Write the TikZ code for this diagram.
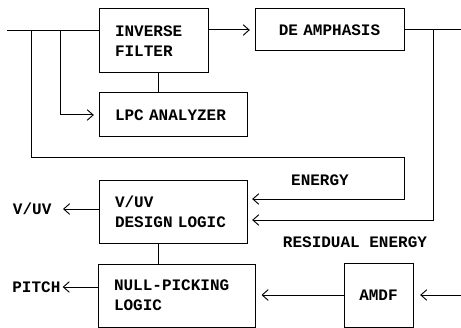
\documentclass[tikz,border=0pt]{standalone}
\usepackage{fontspec}
\setmonofont{Liberation Mono}
\usetikzlibrary{
  arrows.meta,
  calc,
  positioning,
}

\begin{document}
\begin{tikzpicture}[
  x=0.75pt,
  y=-0.75pt,
  font={\ttfamily\bfseries\fontsize{12}{15}\selectfont},
  wire/.style={
    draw=black,
    line width=0.75pt,
  },
  box/.style={
    wire,
    inner xsep=12pt,
    inner ysep=0pt,
    align=left,
  },
  tag/.style={
    inner sep=1pt,
  },
  arrow/.style={
    wire,
    -{Straight Barb[length=4.5pt,width=8pt,line width=0.7pt]},
    shorten >=#1,
  },
  arrow/.default=3.5pt,
]
  \useasboundingbox (0,0) rectangle (461,328);

  %%%%%%%%%%%%%%%%%%%% BLOCKS %%%%%%%%%%%%%%%%%%%%

  \node[box, text width=57.75pt, minimum height=48pt] (invfilt)
    at (153.5,41) {INVERSE\\FILTER};
  \node[box, align=center, text width=87.75pt, minimum height=31.5pt] (deamph)
    at (329.5,30) {DE AMPHASIS};
  \node[box, text width=87pt, minimum height=33pt] (lpc)
    at (173,115) {LPC ANALYZER};
  \node[box, text width=87pt, minimum height=47.25pt] (vuv)
    at (173,211.5) {V/UV\\DESIGN LOGIC};
  \node[box, text width=93.75pt, minimum height=47.25pt] (nullp)
    at (176.5,295.5) {NULL-PICKING\\LOGIC};
  \node[box, inner xsep=0pt, align=center, minimum width=51.75pt,
    minimum height=48pt] (amdf) at (378.5,295) {AMDF};

  %%%%%%%%%%%%%%%%%%%% INPUT %%%%%%%%%%%%%%%%%%%%

  \coordinate (in) at (7,30.5);
  \coordinate (inbr1) at (31,30.5);
  \coordinate (inbr2) at (60,30.5);
  \coordinate (ecorner) at (404,158);

  \draw[wire] (in) -- (invfilt.west |- in);
  \draw[arrow] (inbr2) |- (lpc.west);
  \draw[arrow] (inbr1) |- (ecorner) |- ($(vuv.east)+(0,-12.5)$);
  \node[tag] (energy) at (320,180) {ENERGY};

  \coordinate (lpctop) at ($(lpc.north west)!0.4!(lpc.north east)$);
  \draw[wire] (invfilt.south -| lpctop) -- (lpctop);

  %%%%%%%%%%%%%%%%%%%% DE AMPHASIS %%%%%%%%%%%%%%%%%%%%

  \coordinate (out) at (461,30);
  \coordinate (outbr) at (433,30);

  \draw[arrow] (invfilt.east |- deamph.west) -- (deamph.west);
  \draw[wire] (deamph.east) -- (out);
  \draw[arrow] (outbr) |- ($(vuv.east)+(0,8.5)$);
  \node[tag] (residual) at (355,242) {RESIDUAL ENERGY};

  %%%%%%%%%%%%%%%%%%%% OUTPUTS %%%%%%%%%%%%%%%%%%%%

  \node[tag, anchor=east] (vuvout) at (53,209) {V/UV};
  \draw[arrow=7.5pt] (vuv.west |- vuvout) -- (vuvout.east);

  \coordinate (vuvbot) at ($(vuv.south west)!0.4!(vuv.south east)$);
  \draw[wire] (vuvbot) -- (vuvbot |- nullp.north);

  \node[tag, anchor=east] (pitch) at (62,287) {PITCH};
  \draw[arrow=0.5pt] (nullp.west |- pitch) -- (pitch.east);

  \coordinate (amdfin) at (461,295);
  \draw[arrow=4.5pt] (amdf.west) -- (nullp.east |- amdf.west);
  \draw[arrow=5pt] (amdfin) -- (amdf.east);
\end{tikzpicture}
\end{document}
